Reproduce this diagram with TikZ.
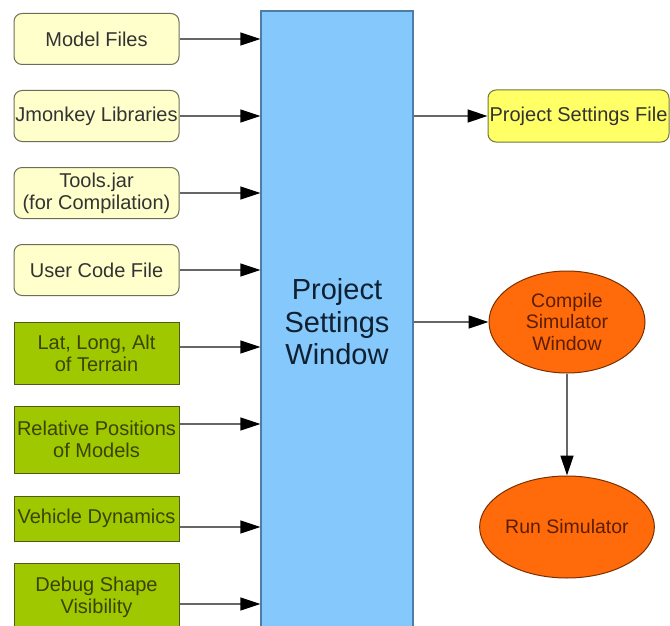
\documentclass[tikz,border=0pt]{standalone}
\usepackage{fontspec}
\setmainfont{Liberation Sans}
\usetikzlibrary{arrows.meta,shapes.geometric}
\definecolor{fileyellow}{HTML}{FFFFCC}
\definecolor{filebdr}{HTML}{6E6E55}
\definecolor{filetxt}{HTML}{333333}
\definecolor{paramgreen}{HTML}{9FC800}
\definecolor{parambdr}{HTML}{4D5C1A}
\definecolor{paramtxt}{HTML}{3A4400}
\definecolor{outyellow}{HTML}{FFFF66}
\definecolor{outbdr}{HTML}{75753A}
\definecolor{simorange}{HTML}{FF6A0A}
\definecolor{simbdr}{HTML}{7A3000}
\definecolor{simtxt}{HTML}{5C1E00}
\definecolor{pswblue}{HTML}{84C8FC}
\definecolor{pswbdr}{HTML}{4D7EA8}
\definecolor{pswtxt}{HTML}{102030}
\definecolor{linegray}{HTML}{666666}
\begin{document}
\begin{tikzpicture}[x=1pt,y=-1pt,
    infile/.style={draw=filebdr, line width=1pt, fill=fileyellow, rounded corners=8pt, minimum width=165pt, minimum height=51pt, inner sep=0pt, align=center, text=filetxt, font=\fontsize{20}{22}\selectfont},
    inparam/.style={draw=parambdr, line width=1pt, fill=paramgreen, minimum width=165pt, inner sep=0pt, align=center, text=paramtxt, font=\fontsize{20}{22}\selectfont},
    sim/.style={ellipse, draw=simbdr, line width=1pt, fill=simorange, minimum width=156pt, minimum height=102pt, inner sep=0pt, align=center, text=simtxt, font=\fontsize{19.5}{21.5}\selectfont},
    feed/.style={draw=linegray, line width=1.4pt, -{Triangle[length=20pt,width=13pt,color=black]}}]
    \useasboundingbox (0,0) rectangle (670,626);
    \clip (0,0) rectangle (670,626);
    \fill [white] (0,0) rectangle (670,626);
    \node [draw=pswbdr, line width=1.2pt, fill=pswblue, minimum width=152pt, minimum height=622pt, inner sep=0pt, align=center, text=pswtxt, font=\fontsize{29}{32.5}\selectfont] (psw) at (337,322) {Project\\Settings\\Window};
    \node [infile] (model) at (96.5,39) {Model Files};
    \node [infile] (jme) at (96.5,116) {Jmonkey Libraries};
    \node [infile] (tools) at (96.5,193) {Tools.jar\\(for Compilation)};
    \node [infile] (usercode) at (96.5,270) {User Code File};
    \node [inparam, minimum height=62pt] (terrain) at (96.5,353) {Lat, Long, Alt\\of Terrain};
    \node [inparam, minimum height=67pt] (relpos) at (96.5,439.5) {Relative Positions\\of Models};
    \node [inparam, minimum height=45pt] (dynamics) at (96.5,518.5) {Vehicle Dynamics};
    \node [inparam, minimum height=68pt] (debug) at (96.5,597) {Debug Shape\\Visibility};
    \node [draw=outbdr, line width=1pt, fill=outyellow, rounded corners=8pt, minimum width=181pt, minimum height=52pt, inner sep=0pt, text=filetxt, font=\fontsize{20}{22}\selectfont] (psfile) at (578.5,116) {Project Settings File};
    \node [sim] (compile) at (567,322) {Compile\\Simulator\\Window};
    \node [sim] (run) at (567,527) {Run Simulator};
    \coordinate (terrain out) at ([yshift=6pt]terrain.east);
    \coordinate (relpos out) at ([yshift=15.5pt]relpos.east);
    \coordinate (dynamics out) at ([yshift=-8.5pt]dynamics.east);
    \coordinate (debug out) at ([yshift=-7pt]debug.east);
    \foreach \n in {model,jme,tools,usercode}
        \draw [feed] (\n.east) -- (\n.east -| psw.west);
    \foreach \n in {terrain out,relpos out,dynamics out,debug out}
        \draw [feed] (\n) -- (\n -| psw.west);
    \draw [feed] (psw.east |- psfile.west) -- (psfile.west);
    \draw [feed] (psw.east |- compile.west) -- (compile.west);
    \draw [feed] (compile.south) -- (run.north);
\end{tikzpicture}
\end{document}
